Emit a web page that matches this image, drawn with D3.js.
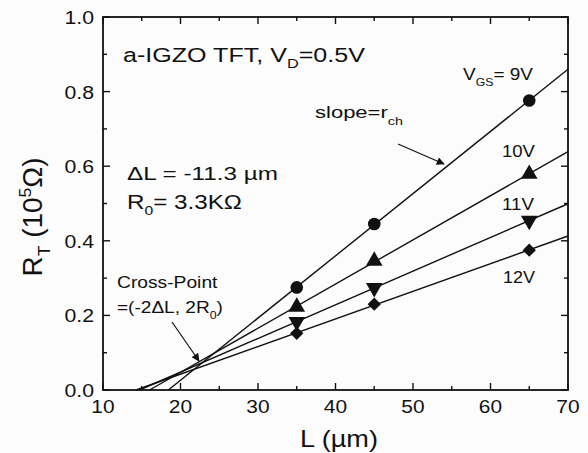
<!DOCTYPE html>
<html><head><meta charset="utf-8">
<script src="https://cdn.jsdelivr.net/npm/d3@7"></script>
<style>
html,body{margin:0;padding:0;background:#fff;}
svg text{font-family:"Liberation Sans",Arial,sans-serif;fill:#111;}
</style></head>
<body>
<svg id="c" width="588" height="453"></svg>
<script>
const lengths = [35, 45, 65];
const vgsLabels = ["9V", "10V", "11V", "12V"];
const markerTypes = ["circle", "triangleUp", "triangleDown", "diamond"];
const rt9 = [0.275, 0.445, 0.776];
const rt10 = [0.223, 0.346, 0.579];
const rt11 = [0.183, 0.274, 0.454];
const rt12 = [0.152, 0.230, 0.375];
const seriesValues = [rt9, rt10, rt11, rt12];
const xTicks = [10, 20, 30, 40, 50, 60, 70];
const yTicks = [0.0, 0.2, 0.4, 0.6, 0.8, 1.0];
const xDomain = [10, 70];
const yDomain = [0, 1];

const svg = d3.select("#c");
const m = {l:103, r:568, t:17, b:390};
const x = d3.scaleLinear().domain(xDomain).range([m.l, m.r]);
const y = d3.scaleLinear().domain(yDomain).range([m.b, m.t]);
const ink = "#111";

svg.append("rect").attr("width",588).attr("height",453).attr("fill","#fcfcfc");

svg.append("defs").append("marker").attr("id","ah").attr("viewBox","0 0 10 10")
  .attr("refX",9).attr("refY",5).attr("markerWidth",11).attr("markerHeight",8)
  .attr("markerUnits","userSpaceOnUse").attr("orient","auto")
  .append("path").attr("d","M0,0 L10,5 L0,10 z").attr("fill",ink);

// horizontal stretch helper (scanned figure has wide lettering)
function stretch(sel, ax, ay, sx){
  sel.attr("transform", `translate(${ax},${ay}) scale(${sx},1) translate(${-ax},${-ay})`);
}
function fitW(sel, ax, ay, target){
  const w = sel.node().getBBox().width;
  stretch(sel, ax, ay, target / w);
}

const g = svg.append("g");
const xMinor = d3.range(15, 70, 10);
const yMinor = d3.range(0.1, 1.0, 0.2);
function tk(x1,y1,x2,y2){g.append("line").attr("x1",x1).attr("y1",y1).attr("x2",x2).attr("y2",y2).attr("stroke",ink).attr("stroke-width",1.4);}
xTicks.forEach(v=>{tk(x(v),m.b,x(v),m.b-7);tk(x(v),m.t,x(v),m.t+7);});
xMinor.forEach(v=>{tk(x(v),m.b,x(v),m.b-4);tk(x(v),m.t,x(v),m.t+4);});
yTicks.forEach(v=>{tk(m.l,y(v),m.l+7,y(v));tk(m.r,y(v),m.r-7,y(v));});
yMinor.forEach(v=>{tk(m.l,y(v),m.l+4,y(v));tk(m.r,y(v),m.r-4,y(v));});

xTicks.forEach(v=>{
  const t = g.append("text").attr("x",x(v)).attr("y",m.b+23).attr("text-anchor","middle").attr("font-size",19).text(d3.format("d")(v));
  stretch(t, x(v), m.b+23, 1.1);
});
yTicks.forEach(v=>{
  const t = g.append("text").attr("x",m.l-9).attr("y",y(v)+7).attr("text-anchor","end").attr("font-size",19).text(d3.format(".1f")(v));
  stretch(t, m.l-9, y(v)+7, 1.12);
});

// fit lines: least squares through the points, from the L-axis crossing to L = 70
seriesValues.forEach(vals=>{
  const mx = d3.mean(lengths), my = d3.mean(vals);
  let sxy=0,sxx=0;
  lengths.forEach((L,i)=>{sxy+=(L-mx)*(vals[i]-my);sxx+=(L-mx)*(L-mx);});
  const s = sxy/sxx, b = my - s*mx;
  const L0 = -b/s, L1 = xDomain[1];
  svg.append("line").attr("x1",x(L0)).attr("y1",y(0)).attr("x2",x(L1)).attr("y2",y(s*L1+b))
    .attr("stroke",ink).attr("stroke-width",1.4);
});

const symMap = {
  circle: d3.symbol().type(d3.symbolCircle).size(125),
  triangleUp: d3.symbol().type(d3.symbolTriangle).size(120),
  triangleDown: d3.symbol().type(d3.symbolTriangle).size(120),
  diamond: d3.symbol().type(d3.symbolSquare).size(88)
};
seriesValues.forEach((vals,si)=>{
  const t = markerTypes[si];
  svg.append("g").selectAll("path").data(vals).join("path")
    .attr("d",symMap[t])
    .attr("transform",(d,i)=>{
      let tr=`translate(${x(lengths[i])},${y(d)})`;
      if(t==="triangleDown") tr+=" rotate(180)";
      if(t==="diamond") tr+=" rotate(45)";
      return tr;})
    .attr("fill",ink);
});

svg.append("rect").attr("x",m.l).attr("y",m.t).attr("width",m.r-m.l).attr("height",m.b-m.t)
  .attr("fill","none").attr("stroke",ink).attr("stroke-width",1.8);

// axis titles
const xl = svg.append("text").attr("x",339).attr("y",447).attr("text-anchor","middle").attr("font-size",23).text("L (µm)");
fitW(xl, 339, 447, 78);
const ylg = svg.append("g").attr("transform","translate(42,217) rotate(-90)");
const yl = ylg.append("text").attr("x",0).attr("y",0).attr("text-anchor","middle").attr("font-size",27);
yl.append("tspan").text("R");
yl.append("tspan").attr("font-size",17).attr("dy",8).text("T");
yl.append("tspan").attr("dy",-8).text(" (10");
yl.append("tspan").attr("font-size",17).attr("dy",-11).text("5");
yl.append("tspan").attr("dy",11).text("Ω)");
fitW(yl, 0, 0, 119);

function label(xx, yy, fs, parts, target){
  const te = svg.append("text").attr("x",xx).attr("y",yy).attr("font-size",fs);
  parts.forEach(p=>{
    const ts = te.append("tspan").text(p.t);
    if(p.s){ts.attr("font-size",fs*0.65).attr("dy",p.s);}
    if(p.d){ts.attr("dy",p.d);}
  });
  if(target) fitW(te, xx, yy, target);
  return te;
}
label(123,62,19.5,[{t:"a-IGZO TFT, V"},{t:"D",s:6},{t:"=0.5V",d:-6}],242);
label(127,180,19,[{t:"ΔL = -11.3 µm"}],151);
label(127,209,20,[{t:"R"},{t:"0",s:6},{t:"= 3.3KΩ",d:-6}],115);
label(463,80,16.5,[{t:"V"},{t:"GS",s:6},{t:"= 9V",d:-6}],70);
label(315,118,17,[{t:"slope=r"},{t:"ch",s:7}],88);
label(502,157,16.5,[{t:"10V"}],33);
label(502,210,16.5,[{t:"11V"}],32);
label(503,283,16.5,[{t:"12V"}],32);
label(117,288,16.5,[{t:"Cross-Point"}],101);
label(117,313,16.5,[{t:"=(-2ΔL, 2R"},{t:"0",s:6},{t:")",d:-6}],106);

svg.append("line").attr("x1",398).attr("y1",144).attr("x2",444).attr("y2",164)
  .attr("stroke",ink).attr("stroke-width",1.2).attr("marker-end","url(#ah)");
svg.append("line").attr("x1",172).attr("y1",322).attr("x2",199).attr("y2",361)
  .attr("stroke",ink).attr("stroke-width",1.2).attr("marker-end","url(#ah)");
</script>
</body></html>
